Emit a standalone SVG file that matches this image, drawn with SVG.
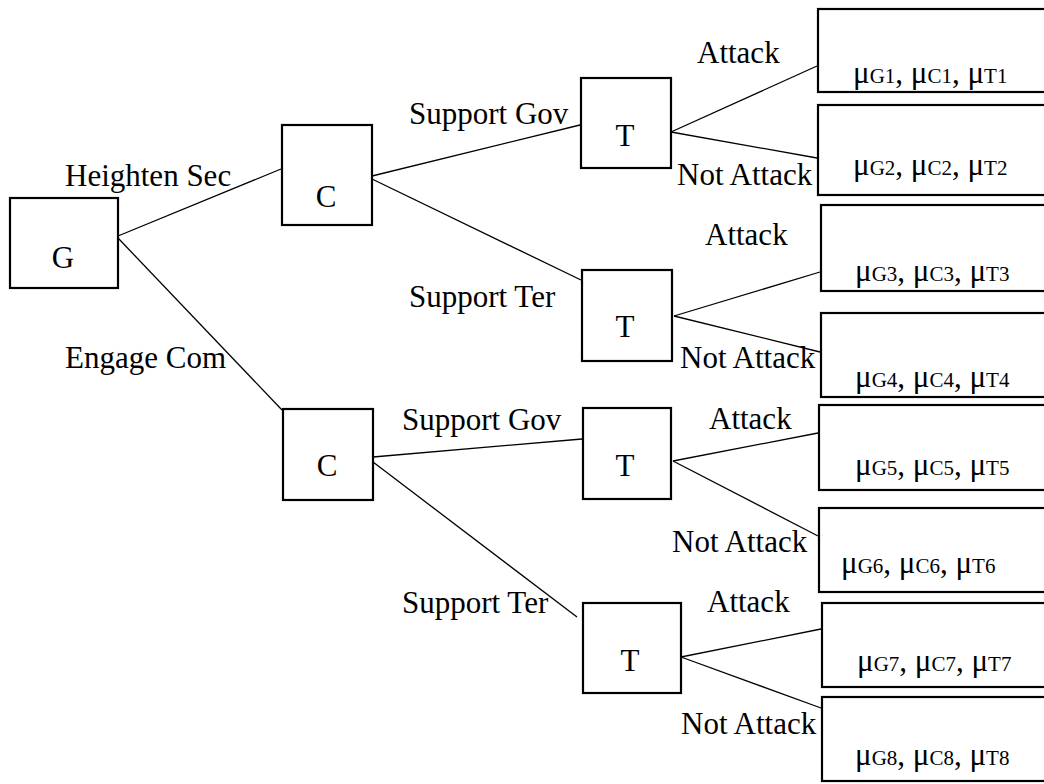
<svg xmlns="http://www.w3.org/2000/svg" width="1044" height="784" viewBox="0 0 1044 784">
<style>
.box{fill:#fff;stroke:#000;stroke-width:2.2}
.lbl{font-family:"Liberation Serif","Times New Roman",serif;font-size:31px;fill:#000}
.nd{font-family:"Liberation Serif","Times New Roman",serif;font-size:31px;fill:#000;text-anchor:middle}
.pay{font-family:"Liberation Serif","Times New Roman",serif;font-size:31px;fill:#000}
.sub{font-size:21px}
#connectors line{stroke:#000;stroke-width:1.3}
</style>
<rect width="1044" height="784" fill="#fff"/>
<g id="connectors">
<line x1="118" y1="236" x2="281" y2="169"/>
<line x1="118" y1="238" x2="282" y2="410"/>
<line x1="372" y1="176" x2="580" y2="125"/>
<line x1="372" y1="179" x2="581" y2="280"/>
<line x1="373" y1="457" x2="582" y2="439"/>
<line x1="373" y1="462" x2="577" y2="617"/>
<line x1="671" y1="132" x2="817" y2="66"/>
<line x1="671" y1="132" x2="817" y2="158"/>
<line x1="674" y1="316" x2="820" y2="272"/>
<line x1="674" y1="316" x2="820" y2="352"/>
<line x1="673" y1="461" x2="818" y2="433"/>
<line x1="673" y1="461" x2="818" y2="536"/>
<line x1="681" y1="657" x2="821" y2="629"/>
<line x1="681" y1="657" x2="821" y2="708"/>
</g>
<g id="edge-labels">
<text class="lbl" x="65" y="186">Heighten Sec</text>
<text class="lbl" x="65" y="368">Engage Com</text>
<text class="lbl" x="409" y="124">Support Gov</text>
<text class="lbl" x="409" y="307">Support Ter</text>
<text class="lbl" x="402" y="430">Support Gov</text>
<text class="lbl" x="402" y="613">Support Ter</text>
<text class="lbl" x="697" y="63">Attack</text>
<text class="lbl" x="677" y="185">Not Attack</text>
<text class="lbl" x="705" y="245">Attack</text>
<text class="lbl" x="680" y="368">Not Attack</text>
<text class="lbl" x="709" y="429">Attack</text>
<text class="lbl" x="672" y="552">Not Attack</text>
<text class="lbl" x="707" y="612">Attack</text>
<text class="lbl" x="681" y="734">Not Attack</text>
</g>
<g id="node-G"><rect class="box" x="10" y="198" width="108" height="90"/><text class="nd" x="63" y="268">G</text></g>
<g id="node-C1"><rect class="box" x="282" y="125" width="90" height="100"/><text class="nd" x="326" y="207">C</text></g>
<g id="node-C2"><rect class="box" x="283" y="409" width="90" height="91"/><text class="nd" x="327" y="476">C</text></g>
<g id="node-T1"><rect class="box" x="581" y="78" width="90" height="90"/><text class="nd" x="625" y="146">T</text></g>
<g id="node-T2"><rect class="box" x="582" y="270" width="90" height="91"/><text class="nd" x="625" y="337">T</text></g>
<g id="node-T3"><rect class="box" x="583" y="408" width="88" height="91"/><text class="nd" x="625" y="476">T</text></g>
<g id="node-T4"><rect class="box" x="583" y="603" width="98" height="90"/><text class="nd" x="630" y="671">T</text></g>
<g id="leaf-1"><rect class="box" x="818" y="9" width="240" height="83"/><text class="pay" x="853" y="83">μ<tspan class="sub">G1</tspan>, μ<tspan class="sub">C1</tspan>, μ<tspan class="sub">T1</tspan></text></g>
<g id="leaf-2"><rect class="box" x="818" y="105" width="240" height="90"/><text class="pay" x="853" y="175">μ<tspan class="sub">G2</tspan>, μ<tspan class="sub">C2</tspan>, μ<tspan class="sub">T2</tspan></text></g>
<g id="leaf-3"><rect class="box" x="821" y="205" width="240" height="86"/><text class="pay" x="855" y="281">μ<tspan class="sub">G3</tspan>, μ<tspan class="sub">C3</tspan>, μ<tspan class="sub">T3</tspan></text></g>
<g id="leaf-4"><rect class="box" x="821" y="313" width="240" height="84"/><text class="pay" x="855" y="387">μ<tspan class="sub">G4</tspan>, μ<tspan class="sub">C4</tspan>, μ<tspan class="sub">T4</tspan></text></g>
<g id="leaf-5"><rect class="box" x="819" y="405" width="240" height="85"/><text class="pay" x="855" y="475">μ<tspan class="sub">G5</tspan>, μ<tspan class="sub">C5</tspan>, μ<tspan class="sub">T5</tspan></text></g>
<g id="leaf-6"><rect class="box" x="819" y="508" width="240" height="84"/><text class="pay" x="841" y="573">μ<tspan class="sub">G6</tspan>, μ<tspan class="sub">C6</tspan>, μ<tspan class="sub">T6</tspan></text></g>
<g id="leaf-7"><rect class="box" x="822" y="603" width="240" height="84"/><text class="pay" x="857" y="671">μ<tspan class="sub">G7</tspan>, μ<tspan class="sub">C7</tspan>, μ<tspan class="sub">T7</tspan></text></g>
<g id="leaf-8"><rect class="box" x="822" y="697" width="240" height="84"/><text class="pay" x="855" y="765">μ<tspan class="sub">G8</tspan>, μ<tspan class="sub">C8</tspan>, μ<tspan class="sub">T8</tspan></text></g>
</svg>
